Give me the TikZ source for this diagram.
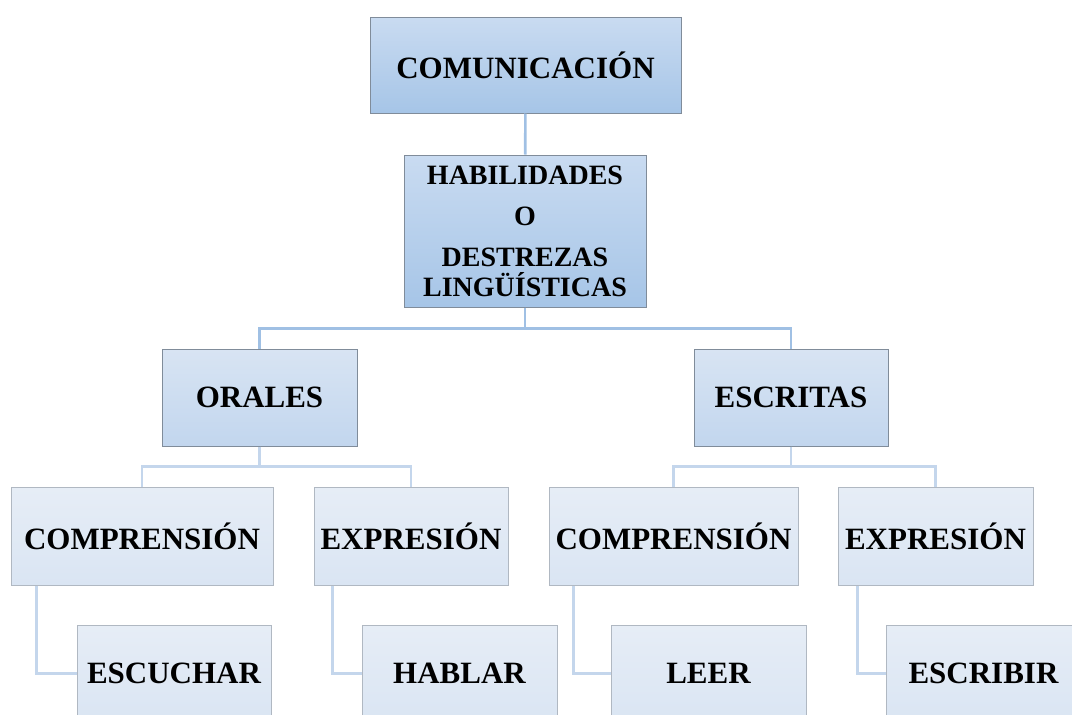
\documentclass[tikz,border=0pt]{standalone}
\usepackage{fontspec}
\setmainfont{Liberation Serif}
\usepackage{tikz}
\definecolor{topA}{RGB}{201,219,241}
\definecolor{topB}{RGB}{166,197,231}
\definecolor{midA}{RGB}{216,228,243}
\definecolor{midB}{RGB}{194,214,238}
\definecolor{lowA}{RGB}{230,237,246}
\definecolor{lowB}{RGB}{218,229,243}
\definecolor{edgeDark}{RGB}{128,140,154}
\definecolor{edgeLight}{RGB}{176,184,194}
\definecolor{linkA}{RGB}{160,192,228}
\definecolor{linkB}{RGB}{196,214,236}
\tikzset{
  box/.style={rectangle, draw, line width=1pt, inner sep=0pt, align=center,
    font=\bfseries\fontsize{31}{33}\selectfont},
  topbox/.style={box, draw=edgeDark, top color=topA, bottom color=topB},
  midbox/.style={box, draw=edgeDark, top color=midA, bottom color=midB},
  lowbox/.style={box, draw=edgeLight, top color=lowA, bottom color=lowB},
  linkup/.style={draw=linkA, line width=2.6pt},
  linklow/.style={draw=linkB, line width=2.6pt}
}

\begin{document}
\begin{tikzpicture}[x=1pt, y=-1pt]
			%%%%% START %%%%%
			\useasboundingbox (0, 0) rectangle (1072, 715);
			\clip (0, 0) rectangle (1072, 715);
			
			\node[topbox, minimum width=311, minimum height=96] (com) at (525.5, 65) {COMUNICACIÓN};
			\node[topbox, minimum width=242, minimum height=152, font=\bfseries\fontsize{28}{30}\selectfont] (hab) at (525, 231)
				{HABILIDADES\\[11pt]O\\[11pt]DESTREZAS\\LINGÜÍSTICAS};
			
			\node[midbox, minimum width=195, minimum height=97] (orales) at (259.5, 397.5) {ORALES};
			\node[midbox, minimum width=194, minimum height=97] (escritas) at (791, 397.5) {ESCRITAS};
			
			\node[lowbox, minimum width=262, minimum height=98] (compO) at (142, 536) {COMPRENSIÓN};
			\node[lowbox, minimum width=194, minimum height=98] (expO) at (411, 536) {EXPRESIÓN};
			\node[lowbox, minimum width=249, minimum height=98] (compE) at (673.5, 536) {COMPRENSIÓN};
			\node[lowbox, minimum width=195, minimum height=98] (expE) at (935.5, 536) {EXPRESIÓN};
			
			\node[lowbox, minimum width=194, minimum height=97] (escuchar) at (174, 673.5) {ESCUCHAR};
			\node[lowbox, minimum width=195, minimum height=97] (hablar) at (459.5, 673.5) {HABLAR};
			\node[lowbox, minimum width=195, minimum height=97] (leer) at (708.5, 673.5) {LEER};
			\node[lowbox, minimum width=195, minimum height=97] (escribir) at (983.5, 673.5) {ESCRIBIR};
			
			\draw[linkup] (com) -- (hab);
			\draw[linkup] (hab.south) -- ++(0, 21) -| (orales.north);
			\draw[linkup] (hab.south) -- ++(0, 21) -| (escritas.north);
			
			\draw[linklow] (orales.south) -- ++(0, 20) -| (compO.north);
			\draw[linklow] (orales.south) -- ++(0, 20) -| (expO.north);
			\draw[linklow] (escritas.south) -- ++(0, 20) -| (compE.north);
			\draw[linklow] (escritas.south) -- ++(0, 20) -| (expE.north);
			
			\draw[linklow] ([xshift=26pt]compO.south west) |- (escuchar.west);
			\draw[linklow] ([xshift=19pt]expO.south west) |- (hablar.west);
			\draw[linklow] ([xshift=25pt]compE.south west) |- (leer.west);
			\draw[linklow] ([xshift=20pt]expE.south west) |- (escribir.west);
			%%%%% END %%%%%
\end{tikzpicture}
\end{document}
